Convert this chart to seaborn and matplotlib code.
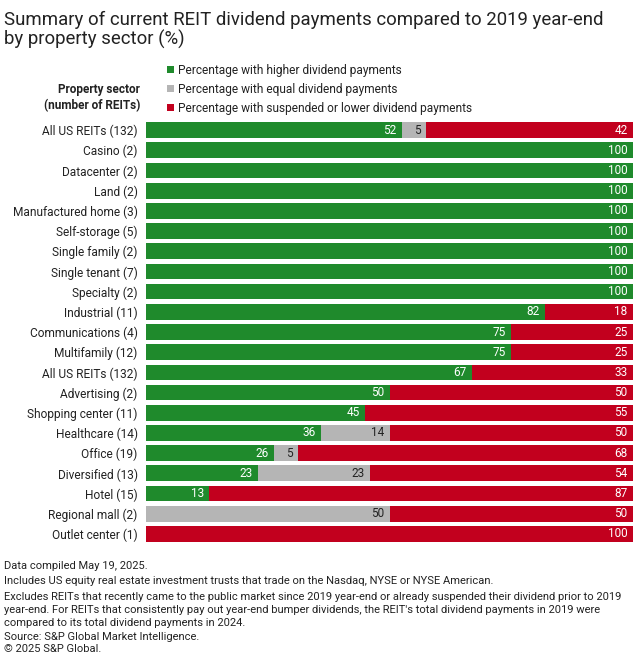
import numpy as np
import pandas as pd
import matplotlib
matplotlib.use("Agg")
import matplotlib.pyplot as plt
import seaborn as sns
from matplotlib.patches import Patch

sectors = ["All US REITs (132)", "Casino (2)", "Datacenter (2)", "Land (2)",
           "Manufactured home (3)", "Self-storage (5)", "Single family (2)",
           "Single tenant (7)", "Specialty (2)", "Industrial (11)",
           "Communications (4)", "Multifamily (12)", "All US REITs (132)",
           "Advertising (2)", "Shopping center (11)", "Healthcare (14)",
           "Office (19)", "Diversified (13)", "Hotel (15)", "Regional mall (2)",
           "Outlet center (1)"]
higher = [52, 100, 100, 100, 100, 100, 100, 100, 100, 82, 75, 75, 67, 50, 45, 36, 26, 23, 13, 0, 0]
equal = [5, 0, 0, 0, 0, 0, 0, 0, 0, 0, 0, 0, 0, 0, 0, 14, 5, 23, 0, 50, 0]
lower = [42, 0, 0, 0, 0, 0, 0, 0, 0, 18, 25, 25, 33, 50, 55, 50, 68, 54, 87, 50, 100]
series_names = ["Percentage with higher dividend payments",
                "Percentage with equal dividend payments",
                "Percentage with suspended or lower dividend payments"]

GREEN = "#1f8a2c"
GRAY = "#b5b5b5"
RED = "#c2001e"
TXT = "#222222"

sns.set_theme(style="white")
plt.rcParams['font.family'] = ['Roboto', 'DejaVu Sans']

df = pd.DataFrame({"row": [f"r{i}" for i in range(len(sectors))],
                   "sector": sectors, "higher": higher, "equal": equal, "lower": lower})
tot = df["higher"] + df["equal"] + df["lower"]
df["g"] = df["higher"] / tot * 100
df["ge"] = (df["higher"] + df["equal"]) / tot * 100
df["all"] = tot / tot * 100

fig = plt.figure(figsize=(6.4, 6.68), dpi=100)
fig.patch.set_facecolor("white")
ax = fig.add_axes([146 / 640, 1 - 544 / 668, (633 - 146) / 640, 424 / 668])

order = list(df["row"])
for col, c in [("all", RED), ("ge", GRAY), ("g", GREEN)]:
    sns.barplot(data=df, y="row", x=col, order=order, color=c, saturation=1,
                width=0.78, ax=ax, orient="h", linewidth=0)

ax.set_xlim(0, 100)
ax.set_ylim(len(sectors) - 0.5, -0.5)
ax.set_xlabel("")
ax.set_ylabel("")
ax.set_xticks([])
ax.set_yticks(range(len(sectors)))
ax.set_yticklabels(sectors, fontsize=8.6, color=TXT)
ax.tick_params(axis="y", length=0, pad=6)
for s in ax.spines.values():
    s.set_visible(False)

fs = 8.5
off = 1.1
for i, r in df.iterrows():
    if r["higher"] > 0:
        ax.text(r["g"] - off, i, f"{r['higher']}", ha="right", va="center",
                color="white", fontsize=fs)
    if r["equal"] > 0:
        ax.text(r["ge"] - off, i, f"{r['equal']}", ha="right", va="center",
                color=TXT, fontsize=fs)
    if r["lower"] > 0:
        ax.text(r["all"] - off, i, f"{r['lower']}", ha="right", va="center",
                color="white", fontsize=fs)

# Title
fig.text(4 / 640, 1 - 20 / 668, "Summary of current REIT dividend payments compared to 2019 year-end",
         fontsize=13.4, color=TXT, va="center", ha="left")
fig.text(4 / 640, 1 - 39 / 668, "by property sector (%)",
         fontsize=13.4, color=TXT, va="center", ha="left")

# Header
fig.text(140 / 640, 1 - 89 / 668, "Property sector", fontsize=8.5, weight="bold",
         color=TXT, ha="right", va="center")
fig.text(140 / 640, 1 - 106 / 668, "(number of REITs)", fontsize=8.5, weight="bold",
         color=TXT, ha="right", va="center")

# Legend
handles = [Patch(facecolor=c, edgecolor="none", label=n)
           for c, n in zip([GREEN, GRAY, RED], series_names)]
leg = fig.legend(handles=handles, loc="upper left",
                 bbox_to_anchor=(167 / 640, 1 - 64 / 668), frameon=False,
                 fontsize=8.55, handlelength=0.55, handleheight=0.55,
                 handletextpad=0.4, labelspacing=0.5, borderaxespad=0,
                 borderpad=0)
for t in leg.get_texts():
    t.set_color(TXT)

# Footer
foot = [(566, "Data compiled May 19, 2025."),
        (581, "Includes US equity real estate investment trusts that trade on the Nasdaq, NYSE or NYSE American."),
        (597, "Excludes REITs that recently came to the public market since 2019 year-end or already suspended their dividend prior to 2019"),
        (610, "year-end. For REITs that consistently pay out year-end bumper dividends, the REIT's total dividend payments in 2019 were"),
        (623, "compared to its total dividend payments in 2024."),
        (637, "Source: S&P Global Market Intelligence."),
        (649, "© 2025 S&P Global.")]
for y, t in foot:
    fig.text(4 / 640, 1 - y / 668, t, fontsize=8.0, color=TXT, ha="left", va="center")

fig.savefig("out.png", dpi=100, facecolor="white")
